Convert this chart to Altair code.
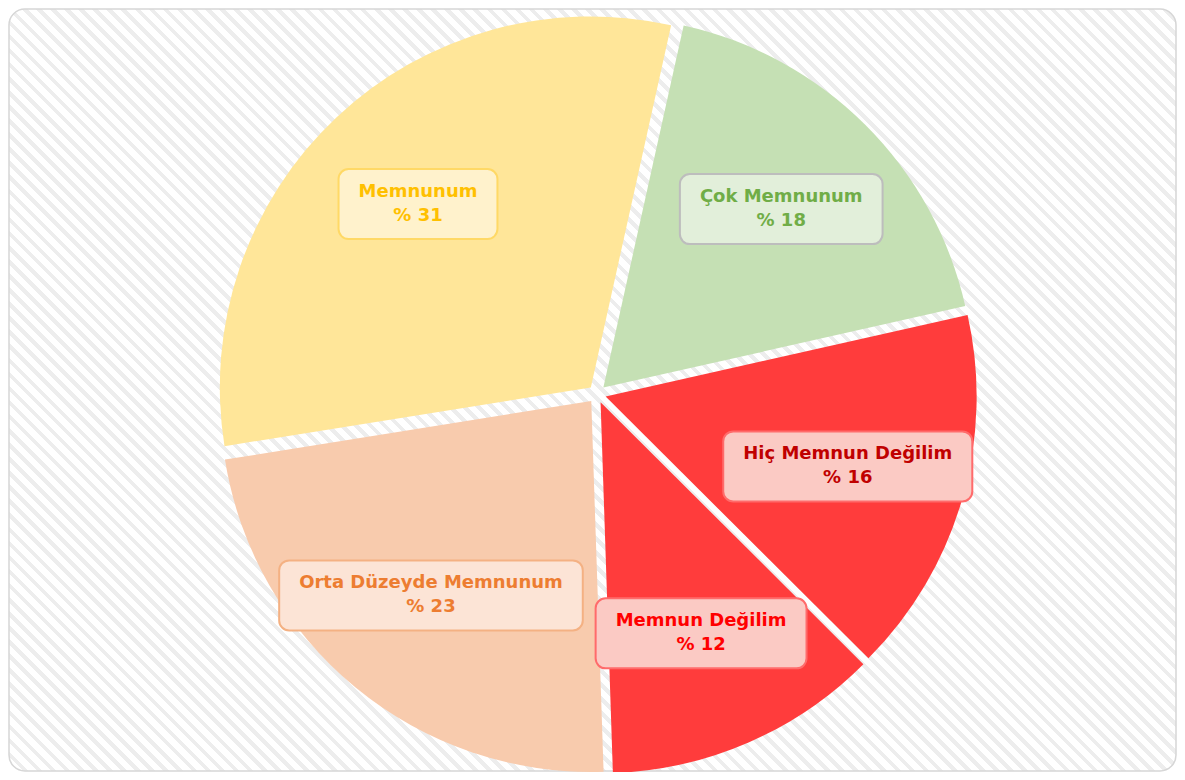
import math
import altair as alt
import pandas as pd

# ---- data ----
categories = ["Çok Memnunum", "Hiç Memnun Değilim", "Memnun Değilim",
              "Orta Düzeyde Memnunum", "Memnunum"]
values = [18, 16, 12, 23, 31]

# ---- styles ----
slice_colors = ["#C5E0B4", "#FF3C3C", "#FF3C3C", "#F8CBAD", "#FFE699"]
box_fills = ["#E2EFDA", "#FBCAC4", "#FBCAC4", "#FCE4D6", "#FFF2CC"]
box_strokes = ["#BDBDBD", "#FF6B6B", "#FF6B6B", "#F4B183", "#FFD966"]
text_colors = ["#70AD47", "#C00000", "#FF0000", "#ED7D31", "#FFC000"]

W, H = 1169, 764
CX, CY = 589, 386          # pie centre (px)
R = 371                    # outer radius
D = 9                      # explode distance
LR = 252                   # label distance from slice apex
START = math.radians(12.5)
FONT = "DejaVu Sans"
FS = 18
LH = 24

# approximate DejaVu Sans Bold advance widths (em units) to size label boxes
adv = {" ": .348, "M": .995, "e": .678, "m": 1.042, "n": .712, "u": .712,
       "H": .837, "i": .343, "ç": .593, "D": .830, "ğ": .716, "l": .343,
       "Ç": .734, "o": .687, "k": .665, "O": .850, "r": .493, "t": .478,
       "a": .675, "ü": .712, "z": .582, "y": .652, "d": .716}


def text_w(s):
    return sum(adv.get(c, .7) for c in s) * FS


total = sum(values)
df = pd.DataFrame({
    "category": categories,
    "value": values,
    "order": list(range(len(values))),
})
df["bw"] = [text_w(c) + 40 for c in categories]
BH = 70

base = alt.Chart(df).transform_joinaggregate(
    total="sum(value)"
).transform_window(
    cum="sum(value)", sort=[alt.SortField("order")], frame=[None, 0]
).transform_calculate(
    c0="datum.cum - datum.value",
    c1="datum.cum",
    mid=f"{START} + 2*PI*(datum.cum - datum.value/2)/datum.total",
    ax=f"{CX} + {D}*sin(datum.mid)",
    ay=f"{CY} - {D}*cos(datum.mid)",
    lx=f"datum.ax + {LR}*sin(datum.mid)",
    ly=f"datum.ay - {LR}*cos(datum.mid)",
    bx="datum.lx - datum.bw/2",
    bx2="datum.lx + datum.bw/2",
    by=f"datum.ly - {BH/2}",
    by2=f"datum.ly + {BH/2}",
    label="datum.category + '\\n% ' + datum.value",
)

# ---- striped background frame (gradient with hard stops) ----
fw, fh = W - 2, H - 2
s = (fw + fh) / (fw * fw + fh * fh)
N = int((fw + fh) / 14)
g = 0.4
stops = []
for k in range(N):
    o0, o1, o2 = k / N, (k + g) / N, (k + 1) / N
    stops += [alt.GradientStop(color="#EDEDED", offset=o0),
              alt.GradientStop(color="#EDEDED", offset=o1),
              alt.GradientStop(color="#FFFFFF", offset=o1),
              alt.GradientStop(color="#FFFFFF", offset=o2)]
grad = alt.LinearGradient(gradient="linear", stops=stops,
                          x1=0, y1=1, x2=s * fw, y2=1 - s * fh)

bg = alt.Chart(pd.DataFrame({"a": [0]})).mark_rect(
    fill=grad, stroke="#D6D6D6", strokeWidth=1.5, cornerRadius=16
).encode(x=alt.value(1), x2=alt.value(W - 1), y=alt.value(1), y2=alt.value(H - 1))

arcs = base.mark_arc(outerRadius=R).encode(
    theta=alt.Theta("c0:Q", scale=alt.Scale(domain=[0, total],
                                            range=[START, START + 2 * math.pi])),
    theta2="c1:Q",
    x=alt.X("ax:Q", scale=None, axis=None),
    y=alt.Y("ay:Q", scale=None, axis=None),
    color=alt.Color("category:N", scale=alt.Scale(domain=categories, range=slice_colors),
                    legend=None),
)

boxes = base.mark_rect(cornerRadius=10, strokeWidth=2).encode(
    x=alt.X("bx:Q", scale=None, axis=None),
    x2="bx2:Q",
    y=alt.Y("by:Q", scale=None, axis=None),
    y2="by2:Q",
    fill=alt.Fill("category:N", scale=alt.Scale(domain=categories, range=box_fills),
                  legend=None),
    stroke=alt.Stroke("category:N", scale=alt.Scale(domain=categories, range=box_strokes),
                      legend=None),
)

labels = base.mark_text(font=FONT, fontWeight="bold", fontSize=FS, lineBreak="\n",
                        lineHeight=LH, align="center", baseline="middle",
                        dy=-LH / 2).encode(
    x=alt.X("lx:Q", scale=None, axis=None),
    y=alt.Y("ly:Q", scale=None, axis=None),
    text="label:N",
    color=alt.Color("category:N", scale=alt.Scale(domain=categories, range=text_colors),
                    legend=None),
)

chart = alt.layer(bg, arcs, boxes, labels).resolve_scale(
    color="independent", fill="independent", stroke="independent"
).properties(
    width=W, height=H, padding=0,
    autosize=alt.AutoSizeParams(type="fit", contains="padding"),
).configure_view(stroke=None)

chart.save("out.html", embed_options={"renderer": "svg", "actions": False})
